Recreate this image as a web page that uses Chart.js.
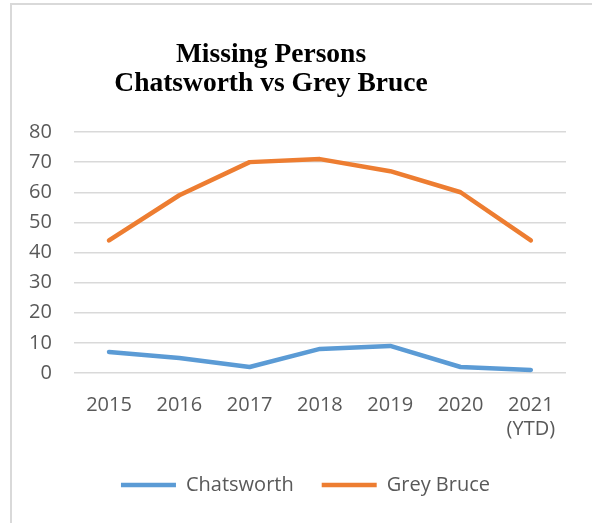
<!DOCTYPE html>
<html>
<head>
<meta charset="utf-8">
<script src="https://cdn.jsdelivr.net/npm/chart.js@4/dist/chart.umd.min.js"></script>
<style>
  html, body { margin: 0; padding: 0; background: #fff; }
  body { width: 592px; height: 523px; position: relative; overflow: hidden; }
  .frame { position: absolute; left: 10px; top: 3px; width: 600px; height: 540px;
           border-left: 2px solid #d9d9d9; border-top: 2px solid #d9d9d9; }
  .title { position: absolute; left: 12px; width: 518px; top: 38px; text-align: center;
           font: bold 27.5px "Liberation Serif", "Times New Roman", serif; line-height: 29px; color: #000; }
  .wrap { position: absolute; left: 12px; top: 5px; width: 580px; height: 518px; }
</style>
</head>
<body>
<div class="frame"></div>
<div class="wrap"><canvas id="chart"></canvas></div>
<div class="title">Missing Persons<br>Chatsworth vs Grey Bruce</div>
<script>
const years = ['2015', '2016', '2017', '2018', '2019', '2020', ['2021', '(YTD)']];
const chatsworth = [7, 5, 2, 8, 9, 2, 1];
const greyBruce = [44, 59, 70, 71, 67, 60, 44];
const yTicks = { min: 0, max: 80, step: 10 };

const font = { family: '"Open Sans", "Liberation Sans", sans-serif', size: 20 };

// nudge the legend to where it sits in the original
const legendShift = {
  id: 'legendShift',
  afterLayout(chart) {
    const lg = chart.legend;
    lg.left += 19; lg.right += 19;
    lg.top -= 14; lg.bottom -= 14;
  }
};

new Chart(document.getElementById('chart'), {
  type: 'line',
  data: {
    labels: years,
    datasets: [
      {
        label: 'Chatsworth',
        data: chatsworth,
        borderColor: '#5b9bd5',
        backgroundColor: '#5b9bd5',
        borderWidth: 4.5,
        borderCapStyle: 'round',
        borderJoinStyle: 'round',
        pointRadius: 0,
        tension: 0
      },
      {
        label: 'Grey Bruce',
        data: greyBruce,
        borderColor: '#ed7d31',
        backgroundColor: '#ed7d31',
        borderWidth: 4.5,
        borderCapStyle: 'round',
        borderJoinStyle: 'round',
        pointRadius: 0,
        tension: 0
      }
    ]
  },
  options: {
    responsive: true,
    maintainAspectRatio: false,
    animation: false,
    layout: { padding: { top: 127, left: -5, right: 26, bottom: 4 } },
    plugins: {
      title: { display: false },
      tooltip: { enabled: false },
      legend: {
        position: 'bottom',
        labels: {
          font,
          color: '#595959',
          usePointStyle: true,
          pointStyle: 'line',
          pointStyleWidth: 55,
          padding: 28
        }
      }
    },
    scales: {
      x: {
        offset: true,
        grid: { display: false, drawTicks: false, offset: true },
        border: { display: false },
        ticks: { font, color: '#595959', padding: 20, maxRotation: 0, autoSkip: false }
      },
      y: {
        min: yTicks.min,
        max: yTicks.max,
        grid: { color: '#d9d9d9', lineWidth: 1.5, drawTicks: false },
        border: { display: false },
        ticks: { font, color: '#595959', stepSize: yTicks.step, padding: 22 }
      }
    }
  },
  plugins: [legendShift]
});
</script>
</body>
</html>
